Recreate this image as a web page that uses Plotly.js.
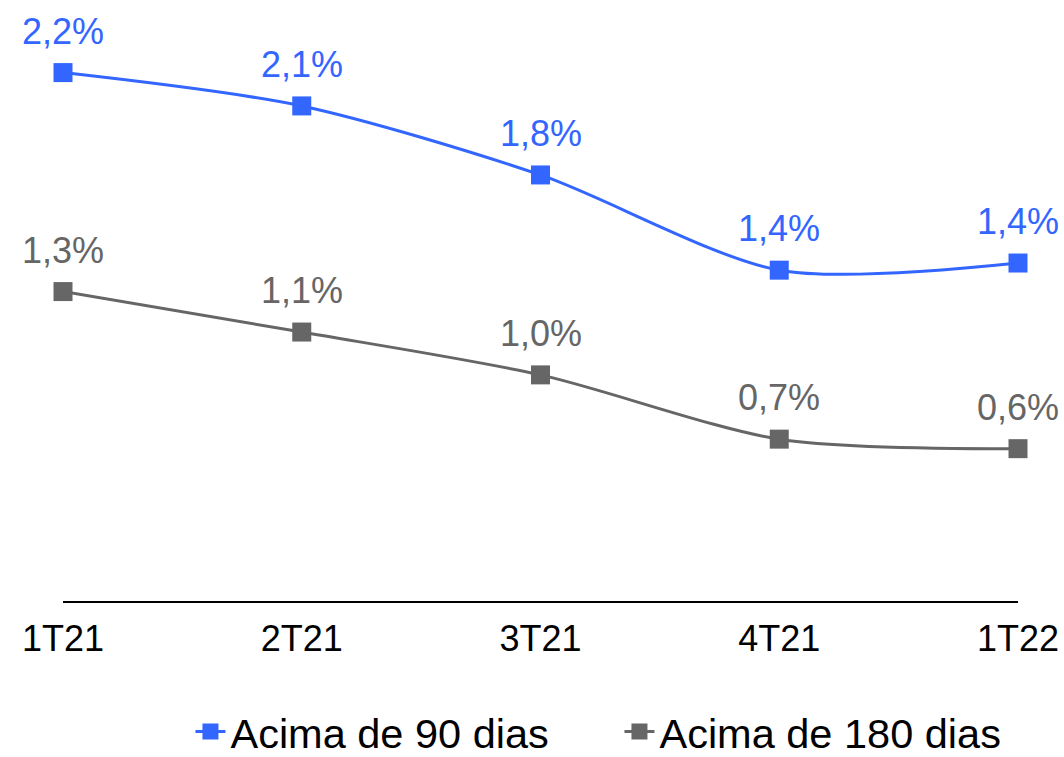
<!DOCTYPE html>
<html>
<head>
<meta charset="utf-8">
<script src="https://cdn.plot.ly/plotly-3.0.1.min.js"></script>
<style>
  html, body { margin: 0; padding: 0; background: #ffffff; }
  #chart { width: 1064px; height: 757px; }
</style>
</head>
<body>
<div id="chart"></div>
<script>
// ---- data ----
const quarters = ["1T21", "2T21", "3T21", "4T21", "1T22"];
const over90 = [2.22, 2.08, 1.79, 1.39, 1.42];
const over180 = [1.30, 1.13, 0.95, 0.68, 0.64];
const over90Labels = ["2,2%", "2,1%", "1,8%", "1,4%", "1,4%"];
const over180Labels = ["1,3%", "1,1%", "1,0%", "0,7%", "0,6%"];
const seriesNames = ["Acima de 90 dias", "Acima de 180 dias"];

const BLUE = "#3366FF";
const GRAY = "#666666";
const FONT = "Liberation Sans, Arial, sans-serif";

function lineTrace(name, y, color) {
  return {
    type: "scatter",
    mode: "lines+markers",
    name: name,
    x: quarters,
    y: y,
    line: { color: color, width: 3, shape: "spline", smoothing: 0.8 },
    marker: { color: color, symbol: "square", size: 19 },
    cliponaxis: false,
    hoverinfo: "skip"
  };
}

function labelAnnots(y, labels, color) {
  return y.map((v, i) => ({
    x: quarters[i],
    y: v,
    xref: "x",
    yref: "y",
    text: labels[i],
    showarrow: false,
    xanchor: "center",
    yanchor: "bottom",
    yshift: 19,
    font: { family: FONT, size: 36, color: color }
  }));
}

const data = [
  lineTrace(seriesNames[0], over90, BLUE),
  lineTrace(seriesNames[1], over180, GRAY)
];

const layout = {
  width: 1064,
  height: 757,
  margin: { l: 63, r: 46, t: 20, b: 156, pad: 0, autoexpand: false },
  paper_bgcolor: "#ffffff",
  plot_bgcolor: "#ffffff",
  font: { family: FONT, color: "#000000" },
  showlegend: true,
  legend: {
    orientation: "h",
    xref: "container",
    yref: "container",
    x: 0.179,
    xanchor: "left",
    y: 0.078,
    yanchor: "top",
    font: { family: FONT, size: 41.5, color: "#000000" },
    entrywidth: 384,
    entrywidthmode: "pixels",
    itemwidth: 30,
    tracegroupgap: 0
  },
  xaxis: {
    type: "category",
    range: [0, 4],
    showline: true,
    linecolor: "#000000",
    linewidth: 2,
    showgrid: false,
    zeroline: false,
    ticks: "",
    ticklabelstandoff: 5,
    tickfont: { family: FONT, size: 36, color: "#000000" },
    fixedrange: true
  },
  yaxis: {
    range: [0, 2.441],
    visible: false,
    showgrid: false,
    zeroline: false,
    fixedrange: true
  },
  annotations: [
    ...labelAnnots(over90, over90Labels, BLUE),
    ...labelAnnots(over180, over180Labels, GRAY)
  ]
};

Plotly.newPlot("chart", data, layout, { displayModeBar: false, staticPlot: true });
</script>
</body>
</html>
